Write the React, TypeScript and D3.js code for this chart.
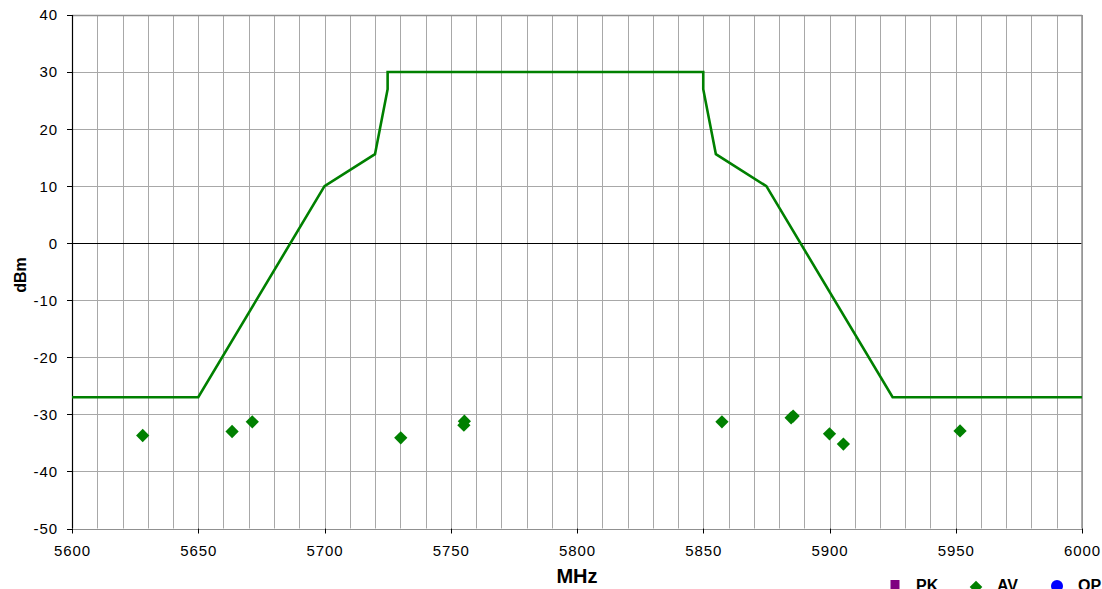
import React from "react";
import * as d3 from "d3";

const maskFreq = [5600, 5650, 5700, 5720, 5725, 5725, 5850, 5850, 5855, 5875, 5925, 6000];
const maskLevel = [-27, -27, 10, 15.6, 27, 30, 30, 27, 15.6, 10, -27, -27];

const avFreq = [5628, 5663.4, 5671.4, 5730.2, 5755.4, 5755.2, 5857.4, 5884.8, 5885.6, 5900, 5905.5, 5951.7];
const avLevel = [-33.7, -33.0, -31.3, -34.1, -31.2, -31.9, -31.3, -30.6, -30.3, -33.4, -35.2, -32.9];

const xTicks = [5600, 5650, 5700, 5750, 5800, 5850, 5900, 5950, 6000];
const yTicks = [40, 30, 20, 10, 0, -10, -20, -30, -40, -50];
const legendItems = ["PK", "AV", "QP"];

const W = 1102;
const H = 589;
const L = 72, R = 1082, T = 15, B = 528.5;

export default function App() {
  const x = d3.scaleLinear().domain([5600, 6000]).range([L, R]);
  const y = d3.scaleLinear().domain([-50, 40]).range([B, T]);
  const vGrid = d3.range(5600, 6001, 10);
  const hGrid = d3.range(-50, 41, 10);
  const line = d3
    .line<number>()
    .x((_, i) => x(maskFreq[i]))
    .y((d) => y(d));
  const diamond = d3.symbol(d3.symbolSquare, 88)() || "";
  const font = "'Liberation Sans', Arial, sans-serif";
  const legendX = [895, 976, 1057];
  const legendColors = ["#800080", "#008000", "#0000ff"];

  return (
    <svg
      width={W}
      height={H}
      style={{ position: "absolute", left: 0, top: 0, background: "#fff" }}
      fontFamily={font}
    >
      <rect x={0} y={0} width={W} height={H} fill="#fff" />
      {vGrid.map((v) => (
        <line
          key={"v" + v}
          x1={Math.round(x(v)) + 0.5}
          x2={Math.round(x(v)) + 0.5}
          y1={T}
          y2={B}
          stroke="#a8a8a8"
          strokeWidth={1}
        />
      ))}
      {hGrid.map((v) => (
        <line
          key={"h" + v}
          x1={L}
          x2={R}
          y1={Math.round(y(v)) + 0.5}
          y2={Math.round(y(v)) + 0.5}
          stroke={v === 0 ? "#000" : "#a8a8a8"}
          strokeWidth={1}
        />
      ))}
      {/* border */}
      <line x1={L} x2={R} y1={Math.round(T) + 0.5} y2={Math.round(T) + 0.5} stroke="#909090" strokeWidth={1.5} />
      <line x1={R} x2={R} y1={T} y2={B} stroke="#909090" strokeWidth={1.5} />
      <line x1={L} x2={R} y1={Math.round(B) + 0.5} y2={Math.round(B) + 0.5} stroke="#909090" strokeWidth={1} />
      <line x1={L + 0.5} x2={L + 0.5} y1={T} y2={B} stroke="#000" strokeWidth={1.2} />
      {/* y ticks */}
      {yTicks.map((v) => (
        <g key={"yt" + v}>
          <line x1={L - 5} x2={L} y1={Math.round(y(v)) + 0.5} y2={Math.round(y(v)) + 0.5} stroke="#000" />
          <text
            x={58}
            y={y(v)}
            dy="0.36em"
            textAnchor="end"
            fontSize={15}
            letterSpacing={0.9}
            fill="#000"
          >
            {v}
          </text>
        </g>
      ))}
      {/* x ticks */}
      {xTicks.map((v) => (
        <g key={"xt" + v}>
          <line x1={Math.round(x(v)) + 0.5} x2={Math.round(x(v)) + 0.5} y1={B} y2={B + 5} stroke="#000" />
          <text x={x(v) + 0.5} y={556} textAnchor="middle" fontSize={15} letterSpacing={0.9} fill="#000">
            {v}
          </text>
        </g>
      ))}
      {/* mask line */}
      <path d={line(maskLevel) || ""} fill="none" stroke="#008000" strokeWidth={2.6} strokeLinejoin="miter" />
      {/* AV points */}
      {avFreq.map((f, i) => (
        <path
          key={"av" + i}
          d={diamond}
          transform={`translate(${x(f)},${y(avLevel[i])}) rotate(45)`}
          fill="#008000"
        />
      ))}
      {/* axis titles */}
      <text x={577} y={583} textAnchor="middle" fontSize={20} fontWeight="bold" fill="#000">
        MHz
      </text>
      <text
        transform={`translate(26,275) rotate(-90)`}
        textAnchor="middle"
        fontSize={16}
        fontWeight="bold"
        fill="#000"
      >
        dBm
      </text>
      {/* legend (cut at the bottom edge, as in the reference) */}
      {legendItems.map((name, i) => (
        <g key={name}>
          {i === 0 && <rect x={legendX[i] - 4.5} y={580} width={9} height={9} fill={legendColors[i]} />}
          {i === 1 && (
            <path
              d={d3.symbol(d3.symbolSquare, 80)() || ""}
              transform={`translate(${legendX[i]},${587}) rotate(45)`}
              fill={legendColors[i]}
            />
          )}
          {i === 2 && <circle cx={legendX[i]} cy={586} r={6} fill={legendColors[i]} />}
          <text x={legendX[i] + 21} y={591} fontSize={16} fontWeight="bold" fill="#000">
            {name}
          </text>
        </g>
      ))}
    </svg>
  );
}
